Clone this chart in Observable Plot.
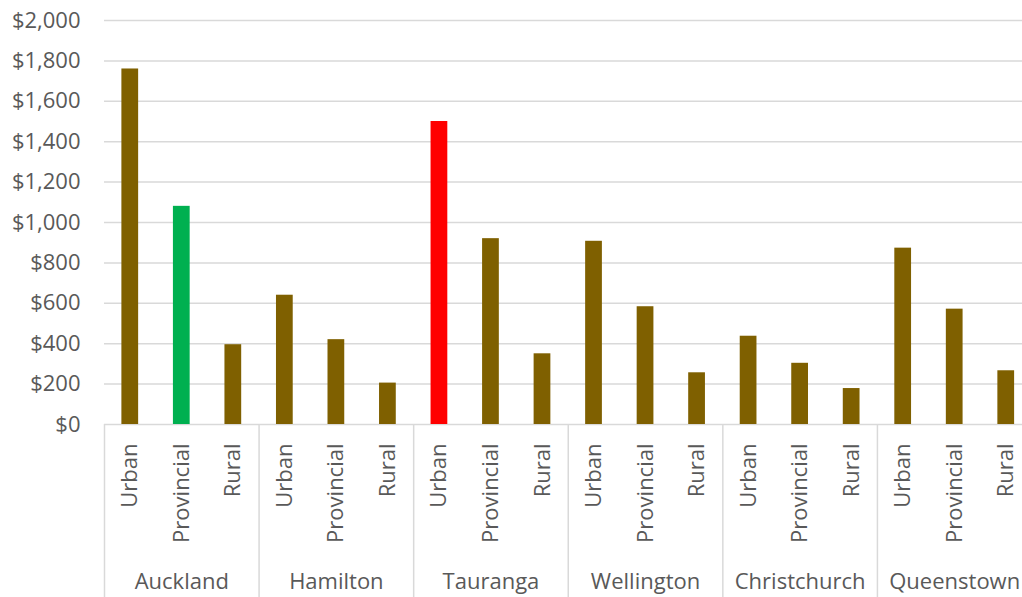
<!DOCTYPE html>
<html>
<head>
<meta charset="utf-8">
<script src="https://cdn.jsdelivr.net/npm/d3@7"></script>
<script src="https://cdn.jsdelivr.net/npm/@observablehq/plot@0.6"></script>
<style>
  html, body { margin: 0; padding: 0; background: #ffffff; overflow: hidden; }
  #chart svg { display: block; }
</style>
</head>
<body>
<div id="chart"></div>
<script>
// Average cost by city and location type
const cities = ["Auckland", "Hamilton", "Tauranga", "Wellington", "Christchurch", "Queenstown"];
const types = ["Urban", "Provincial", "Rural"];
const urban = [1760, 640, 1500, 907, 437, 873];
const provincial = [1080, 420, 920, 583, 303, 571];
const rural = [395, 205, 350, 256, 178, 266];
const yTicks = [0, 200, 400, 600, 800, 1000, 1200, 1400, 1600, 1800, 2000];

// Highlighted bars
const highlights = [
  {city: "Auckland", type: "Provincial", color: "#00B050"},
  {city: "Tauranga", type: "Urban", color: "#FF0000"}
];
const barColor = "#7F6000";

const key = (city, type) => `${city}|${type}`;
const series = {Urban: urban, Provincial: provincial, Rural: rural};

const rows = cities.flatMap((city, i) => types.map(type => {
  const h = highlights.find(d => d.city === city && d.type === type);
  return {city, type, key: key(city, type), value: series[type][i], fill: h ? h.color : barColor};
}));

// Layout
const W = 1022, H = 597;
const plotLeft = 104, plotRight = 1031.5;   // category band runs slightly past the visible edge
const plotTop = 20, plotBase = 424;
const step = (plotRight - plotLeft) / (cities.length * types.length);
const textColor = "#595959";
const gridColor = "#D9D9D9";
const fs = 22;

const chart = Plot.plot({
  width: W,
  height: H,
  marginTop: 0,
  marginBottom: 0,
  marginLeft: plotLeft,
  marginRight: 0,
  style: {fontFamily: "'Open Sans', sans-serif", color: textColor, background: "#ffffff", overflow: "hidden"},
  x: {
    domain: rows.map(d => d.key), range: [plotLeft, plotRight], round: false,
    paddingInner: 0.675, paddingOuter: 0.3375, axis: null
  },
  y: {domain: [0, 2000], range: [plotBase, plotTop], axis: null},
  marks: [
    Plot.ruleY(yTicks, {stroke: gridColor, strokeWidth: 1.5}),
    Plot.barY(rows, {x: "key", y: "value", fill: "fill"}),
    Plot.axisY(yTicks, {
      tickSize: 0, tickPadding: 24, fontSize: fs,
      tickFormat: d => "$" + d3.format(",")(d), label: null
    }),
    // group separators below the baseline
    Plot.ruleX(cities, {x: c => key(c, "Urban"), dx: -step / 2, insetTop: plotBase, stroke: gridColor, strokeWidth: 1.5}),
    // rotated location-type labels
    Plot.text(rows, {
      x: "key", y: 0, text: "type", rotate: -90, textAnchor: "end", lineAnchor: "middle",
      dy: 19, fontSize: fs, fill: textColor
    }),
    // city labels
    Plot.text(cities, {
      x: c => key(c, "Provincial"), y: 0, text: c => c, lineAnchor: "middle",
      dy: 157, fontSize: fs, fill: textColor
    })
  ]
});

document.getElementById("chart").appendChild(chart);
</script>
</body>
</html>
